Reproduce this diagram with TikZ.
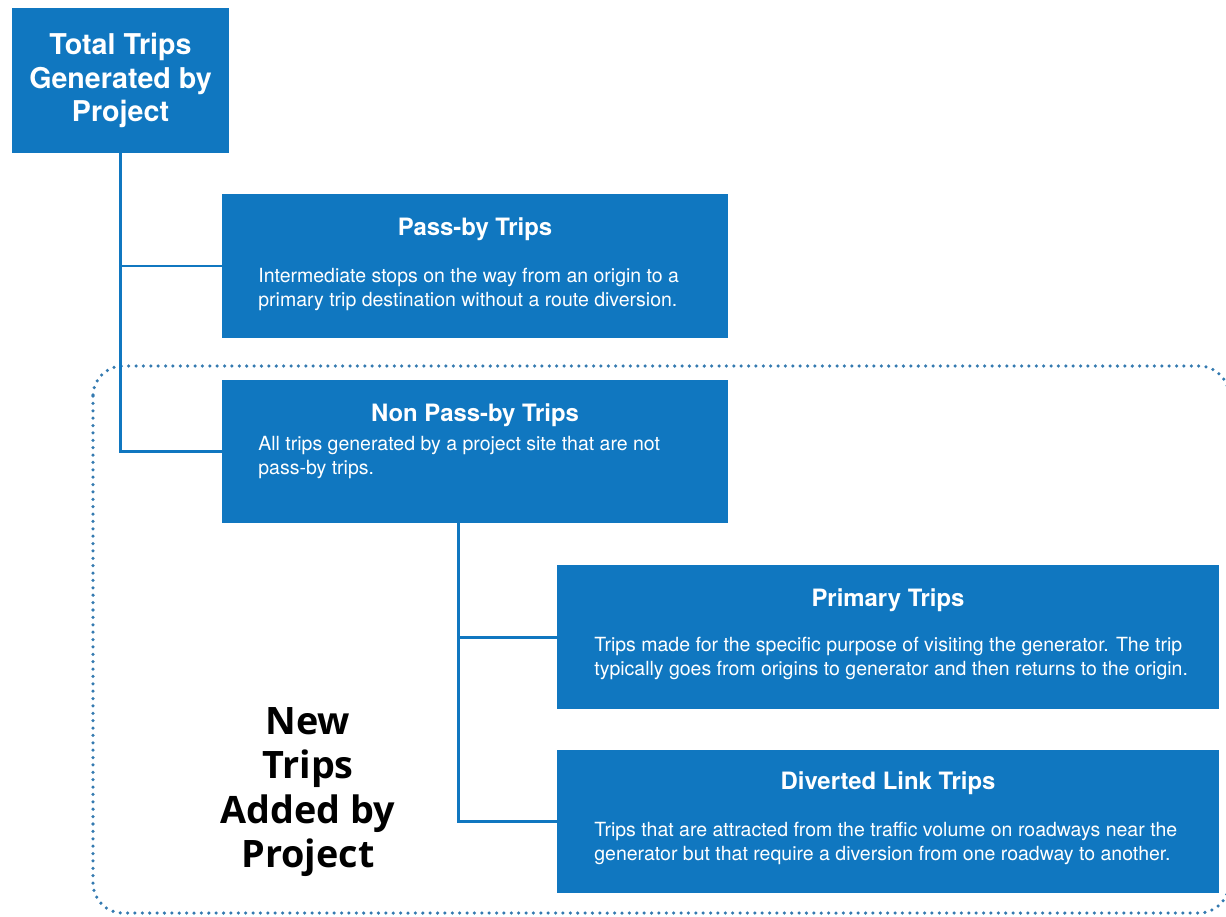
\documentclass[tikz,border=0pt]{standalone}
\usepackage{fontspec}
\setmainfont{TeX Gyre Heros}
\newfontfamily\notefont{Open Sans}
\usetikzlibrary{positioning}
\definecolor{tripblue}{RGB}{16,119,192}
\definecolor{dotblue}{RGB}{52,122,176}

\tikzset{
  tripbox/.style={draw=none,fill=tripblue,inner sep=0pt},
  triptitle/.style={text=white,font=\bfseries\fontsize{13.6}{15}\selectfont,anchor=base,inner sep=0pt},
  tripbody/.style={text=white,font=\fontsize{11.1}{13.8}\selectfont,anchor=north west,align=left,inner sep=0pt},
  link/.style={tripblue,line width=1.7pt},
}

\begin{document}
\begin{tikzpicture}[x=0.02cm,y=-0.02cm]
        \useasboundingbox (0,0) rectangle (1226,916);

        % frame round the new trips
        \draw[dotblue,line width=2pt,line cap=round,dash pattern=on 0pt off 4.2pt,rounded corners=0.6cm] (93,366) rectangle (1229,913);

        \coordinate (v1) at (120.5,80.5);
        \coordinate (v2) at (475,266);
        \coordinate (v3) at (475,451.5);
        \coordinate (v4) at (888,637);
        \coordinate (v5) at (888,821.5);
        \coordinate (split) at (458,523);

        \node[tripbox,minimum width=4.34cm,minimum height=2.9cm,text=white,align=center,font=\bfseries\fontsize{16.3}{19.3}\selectfont] (total) at (v1) {Total Trips\\Generated by\\Project};
        \node[tripbox,minimum width=10.12cm,minimum height=2.88cm] (passby) at (v2) {};
        \node[tripbox,minimum width=10.12cm,minimum height=2.86cm] (nonpassby) at (v3) {};
        \node[tripbox,minimum width=13.24cm,minimum height=2.88cm] (primary) at (v4) {};
        \node[tripbox,minimum width=13.24cm,minimum height=2.86cm] (diverted) at (v5) {};

        \draw[link] (total.south) |- (passby.west);
        \draw[link] (total.south) |- (nonpassby.west);
        \draw[link] (split) |- (primary.west);
        \draw[link] (split) |- (diverted.west);

        \node[triptitle] (passbytitle) at (475,235.5) {Pass-by Trips};
        \node[tripbody] (passbytext) at (258,268) {Intermediate stops on the way from an origin to a\\primary trip destination without a route diversion.};

        \node[triptitle] (nonpassbytitle) at (475,421.5) {Non Pass-by Trips};
        \node[tripbody] (nonpassbytext) at (258,436) {All trips generated by a project site that are not\\pass-by trips.};

        \node[triptitle] (primarytitle) at (888,606.5) {Primary Trips};
        \node[tripbody] (primarytext) at (594,637) {Trips made for the specific purpose of visiting the generator. The trip\\typically goes from origins to generator and then returns to the origin.};

        \node[triptitle] (divertedtitle) at (888,789.5) {Diverted Link Trips};
        \node[tripbody] (divertedtext) at (594,822) {Trips that are attracted from the traffic volume on roadways near the\\generator but that require a diversion from one roadway to another.};

        \node[align=center,font=\notefont\bfseries\fontsize{21.5}{25.3}\selectfont] (newtrips) at (308,792) {New\\Trips\\Added by\\Project};
\end{tikzpicture}
\end{document}
